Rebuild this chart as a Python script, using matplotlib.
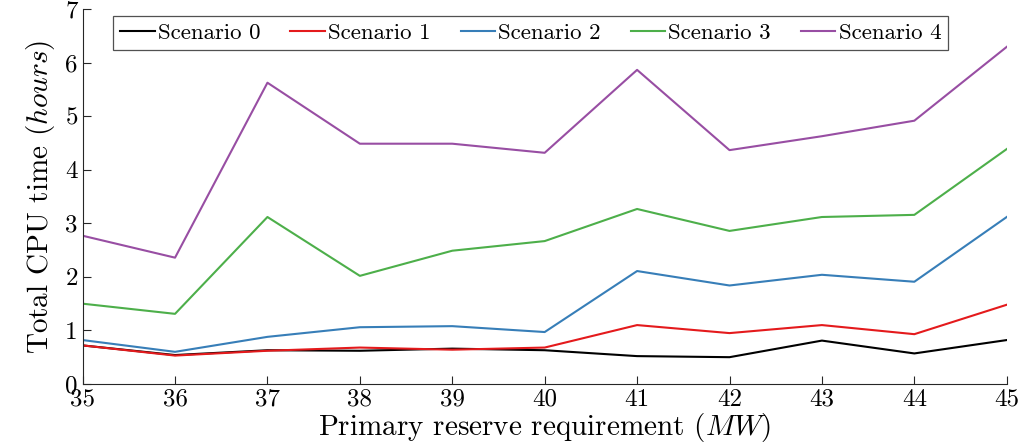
import matplotlib
matplotlib.use("Agg")
import matplotlib.pyplot as plt

plt.rcParams['font.family'] = 'serif'
plt.rcParams['font.serif'] = ['cmr10', 'DejaVu Serif']
plt.rcParams['mathtext.fontset'] = 'cm'
plt.rcParams['axes.unicode_minus'] = False

reserve = [35, 36, 37, 38, 39, 40, 41, 42, 43, 44, 45]
scen0 = [0.72, 0.54, 0.63, 0.62, 0.66, 0.63, 0.52, 0.50, 0.81, 0.57, 0.82]
scen1 = [0.72, 0.53, 0.62, 0.68, 0.64, 0.68, 1.10, 0.95, 1.10, 0.93, 1.48]
scen2 = [0.82, 0.60, 0.88, 1.06, 1.08, 0.97, 2.11, 1.84, 2.04, 1.91, 3.12]
scen3 = [1.50, 1.31, 3.12, 2.02, 2.49, 2.67, 3.27, 2.86, 3.12, 3.16, 4.39]
scen4 = [2.77, 2.36, 5.63, 4.49, 4.49, 4.32, 5.87, 4.37, 4.63, 4.92, 6.30]

series = [scen0, scen1, scen2, scen3, scen4]
names = ['Scenario 0', 'Scenario 1', 'Scenario 2', 'Scenario 3', 'Scenario 4']
colors = ['black', '#E41A1C', '#377EB8', '#4DAF4A', '#984EA3']

fig = plt.figure(figsize=(10.2, 4.48), dpi=100)
ax = fig.add_axes([0.081, 0.143, 0.906, 0.836])

for vals, name, c in zip(series, names, colors):
    ax.plot(reserve, vals, color=c, lw=1.5, label=name)

ax.set_xlim(35, 45)
ax.set_ylim(0, 7)
ax.set_xticks(reserve)
ax.set_yticks(range(0, 8))
ax.tick_params(direction='in', labelsize=18, length=6, color='#262626')
for s in ['top', 'right']:
    ax.spines[s].set_visible(False)
for s in ['left', 'bottom']:
    ax.spines[s].set_color('#262626')

ax.set_xlabel('Primary reserve requirement ($MW$)', fontsize=21, labelpad=0)
ax.set_ylabel('Total CPU time ($hours$)', fontsize=21, labelpad=6)

leg = ax.legend(loc='upper center', bbox_to_anchor=(0.485, 0.982), ncol=5,
                fontsize=16.5, frameon=True, fancybox=False, edgecolor='#262626',
                handlelength=1.5, handletextpad=0.15, columnspacing=1.3,
                borderpad=0.3, borderaxespad=0.0)
leg.get_frame().set_linewidth(0.9)

fig.savefig('out.png', dpi=100)
